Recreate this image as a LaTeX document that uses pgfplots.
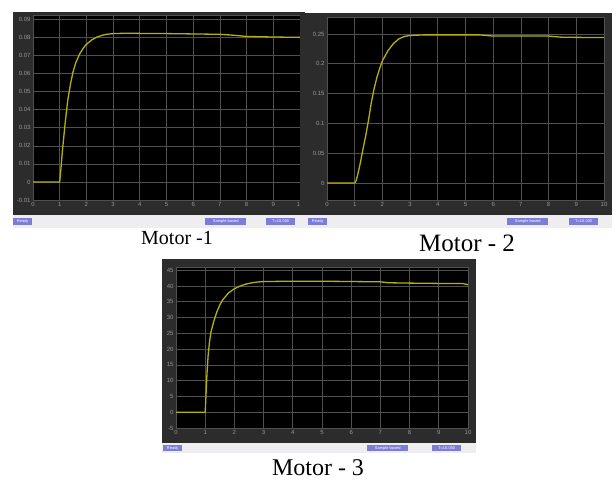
\documentclass[border=0pt]{standalone}
\usepackage{pgfplots}
\pgfplotsset{compat=1.18}
\usepackage{fontspec}
\setmainfont{Liberation Serif}
\newfontfamily\tickfont{Liberation Sans}
\definecolor{framegrey}{RGB}{44,44,44}
\definecolor{gridgrey}{RGB}{80,80,80}
\definecolor{labgrey}{RGB}{150,150,150}
\definecolor{scopeyellow}{RGB}{184,176,10}
\definecolor{barbg}{RGB}{238,238,240}
\definecolor{tagblue}{RGB}{125,125,215}
\pgfplotsset{
  scopeaxis/.style={
    scale only axis,
    xmin=0, xmax=10,
    xtick={0,1,2,3,4,5,6,7,8,9,10},
    axis background/.style={fill=black},
    grid=major,
    major grid style={color=gridgrey, line width=0.7pt},
    axis line style={draw=gridgrey, line width=0.6pt},
    tick style={draw=none},
    ticklabel style={font=\tickfont\fontsize{6}{7}\selectfont, text=labgrey},
    xticklabel style={yshift=1pt},
    yticklabel style={xshift=1pt},
    scaled y ticks=false,
    /pgf/number format/assume math mode=true,
    /pgf/number format/fixed,
    /pgf/number format/precision=2,
    clip=true,
  },
  scopeline/.style={color=scopeyellow, line width=1.3pt, no marks, line join=round},
}
\tikzset{
  tag/.style={fill=tagblue, text=white, inner sep=0pt, anchor=west,
    minimum height=6.5pt, font=\tickfont\fontsize{4}{4.5}\selectfont},
  caption/.style={inner sep=0pt, anchor=base},
}
\newcommand{\statusbar}[7]{%
  \fill[barbg] (#1pt,-#3pt) rectangle (#2pt,-#4pt);
  \node[tag, minimum width=19pt] at (#5pt,{-(#3+#4)/2*1pt}) {Ready};
  \node[tag, minimum width=41pt] at (#6pt,{-(#3+#4)/2*1pt}) {Sample based};
  \node[tag, minimum width=29pt] at (#7pt,{-(#3+#4)/2*1pt}) {T=10.000};
}
\begin{document}
\begin{tikzpicture}
\useasboundingbox (0pt,0pt) rectangle (616pt,-481pt);
\fill[white] (0pt,0pt) rectangle (616pt,-481pt);

% ---------- Motor 1 ----------
\fill[framegrey] (13pt,-12pt) rectangle (305pt,-215pt);
\statusbar{13}{305}{215}{228}{13}{205}{266}
\begin{axis}[scopeaxis,
  at={(33pt,-200pt)}, anchor=south west,
  width=267pt, height=185pt,
  ymin=-0.01, ymax=0.0925,
  ytick={-0.01,0,0.01,0.02,0.03,0.04,0.05,0.06,0.07,0.08,0.09},
]
\addplot[scopeline] coordinates {
(0,0) (1,0) (1.05,0.008) (1.1,0.017) (1.2,0.032) (1.3,0.045) (1.4,0.054)
(1.5,0.061) (1.6,0.066) (1.75,0.071) (1.9,0.0745) (2.0,0.0762) (2.2,0.0787)
(2.4,0.0803) (2.6,0.0813) (2.8,0.0819) (3.0,0.0822) (3.5,0.0824) (4,0.0823)
(5,0.0822) (6,0.0820) (7,0.0818) (7.5,0.0813) (8,0.0806) (9,0.0803) (10,0.0801)
};
\end{axis}
\node[caption, font=\fontsize{20}{22}\selectfont] at (177pt,-245pt) {Motor -1};

% ---------- Motor 2 ----------
\fill[framegrey] (300pt,-13pt) rectangle (612pt,-215pt);
\statusbar{300}{612}{215}{228}{308}{507}{569}
\begin{axis}[scopeaxis,
  at={(327pt,-200pt)}, anchor=south west,
  width=277pt, height=183pt,
  ymin=-0.0285, ymax=0.2785,
  ytick={0,0.05,0.1,0.15,0.2,0.25},
]
\addplot[scopeline] coordinates {
(0,0) (1,0) (1.05,0.004) (1.1,0.012) (1.2,0.033) (1.3,0.057) (1.4,0.08)
(1.5,0.106) (1.6,0.135) (1.7,0.158) (1.8,0.177) (1.9,0.192) (2.0,0.205)
(2.2,0.222) (2.4,0.234) (2.6,0.242) (2.8,0.246) (3.0,0.2475) (3.5,0.2485)
(5.5,0.2485) (6,0.2465) (8,0.2465) (8.5,0.2445) (10,0.2440)
};
\end{axis}
\node[caption, font=\fontsize{25}{27}\selectfont] at (467pt,-252pt) {Motor - 2};

% ---------- Motor 3 ----------
\fill[framegrey] (162pt,-259pt) rectangle (476pt,-443pt);
\statusbar{162}{476}{443}{453}{163}{367}{432}
\begin{axis}[scopeaxis,
  at={(176pt,-428pt)}, anchor=south west,
  width=292pt, height=161pt,
  ymin=-5, ymax=46,
  ytick={-5,0,5,10,15,20,25,30,35,40,45},
]
\addplot[scopeline] coordinates {
(0,0) (1,0) (1.03,6) (1.06,12) (1.1,18) (1.15,22.5) (1.2,25.5) (1.3,29)
(1.4,31.8) (1.5,34) (1.6,35.6) (1.8,37.8) (2.0,39.1) (2.2,40) (2.4,40.6)
(2.6,41) (2.8,41.25) (3.0,41.4) (4,41.5) (5,41.5) (6,41.4) (7,41.3)
(7.3,41.0) (8,40.9) (9,40.8) (9.8,40.8) (10,40.4)
};
\end{axis}
\node[caption, font=\fontsize{24}{26}\selectfont] at (318pt,-475pt) {Motor - 3};
\end{tikzpicture}
\end{document}
